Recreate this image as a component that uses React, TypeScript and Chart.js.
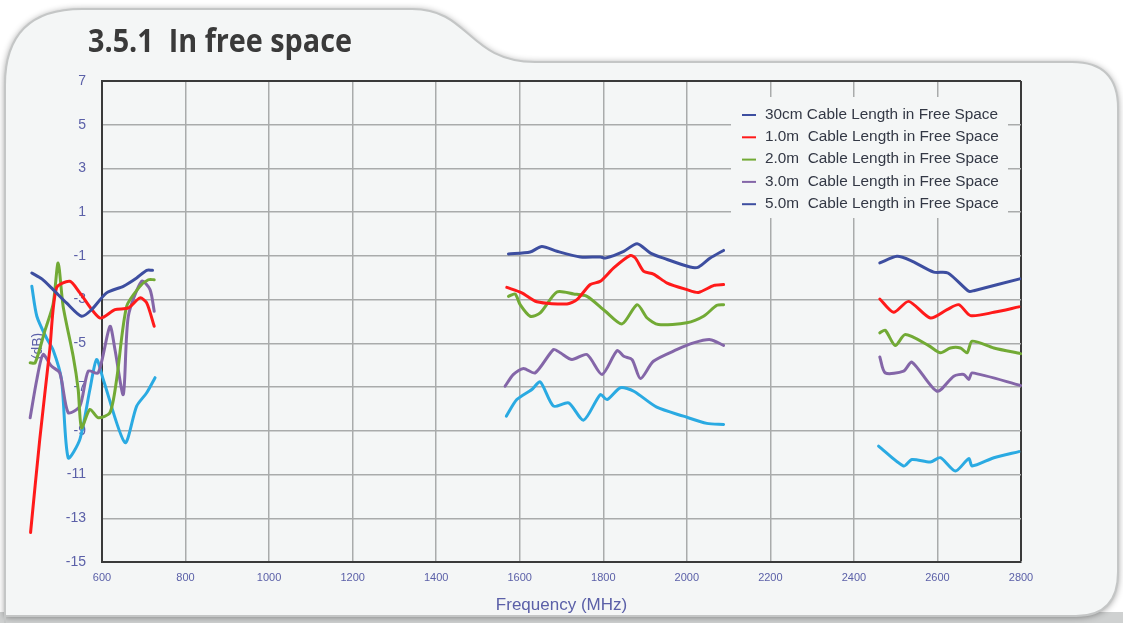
import React, { useEffect, useRef } from 'react';
import { Chart, registerables } from 'chart.js';

Chart.register(...registerables);

// ---------- data (frequency in MHz, gain in dB; null = gap between bands) ----------
const xTickValues = [600, 800, 1000, 1200, 1400, 1600, 1800, 2000, 2200, 2400, 2600, 2800];
const yTickValues = [-15, -13, -11, -9, -7, -5, -3, -1, 1, 3, 5, 7];

const seriesNames = [
  '30cm Cable Length in Free Space',
  '1.0m  Cable Length in Free Space',
  '2.0m  Cable Length in Free Space',
  '3.0m  Cable Length in Free Space',
  '5.0m  Cable Length in Free Space',
];

const freq30cm = [432, 456, 483, 515, 551, 575, 611, 651, 683, 707, 721, null,
  1573, 1625, 1653, 1689, 1745, 1793, 1805, 1849, 1881, 1913, 1944, 2008, 2028, 2056, 2088, null,
  2462, 2503, 2535, 2591, 2625, 2675, 2687, 2797];
const gain30cm = [-1.78, -2.05, -2.54, -3.15, -3.76, -3.46, -2.69, -2.39, -2.01, -1.66, -1.66, null,
  -0.91, -0.82, -0.57, -0.79, -1.05, -1.05, -1.1, -0.79, -0.44, -0.87, -1.1, -1.51, -1.51, -1.1, -0.75, null,
  -1.32, -1.02, -1.2, -1.74, -1.78, -2.62, -2.59, -2.05];

const freq1m = [429, 451, 475, 491, 523, 547, 595, 631, 663, 691, 707, 725, null,
  1569, 1605, 1641, 1713, 1737, 1769, 1793, 1825, 1865, 1877, 1897, 1920, 1953, 2000, 2028, 2065, 2088, null,
  2462, 2495, 2531, 2583, 2623, 2651, 2679, 2735, 2795];
const gain1m = [-13.65, -9.39, -5.28, -2.47, -2.16, -2.69, -3.84, -3.46, -3.38, -2.92, -3.15, -4.22, null,
  -2.44, -2.69, -3.1, -3.2, -3.0, -2.31, -2.16, -1.55, -0.98, -1.1, -1.71, -1.83, -2.24, -2.54, -2.67, -2.35, -2.31, null,
  -2.97, -3.58, -3.08, -3.84, -3.46, -3.23, -3.73, -3.58, -3.33];

const freq2m = [428, 440, 463, 483, 495, 507, 531, 543, 551, 571, 591, 619, 635, 659, 691, 711, 725, null,
  1573, 1589, 1601, 1625, 1649, 1689, 1729, 1761, 1805, 1845, 1881, 1905, 1932, 2000, 2040, 2072, 2088, null,
  2462, 2475, 2499, 2523, 2579, 2607, 2631, 2655, 2671, 2683, 2735, 2799];
const gain2m = [-5.89, -5.89, -4.44, -3.2, -1.32, -3.31, -5.59, -7.11, -8.86, -8.02, -8.4, -8.17, -6.65, -3.31, -2.39, -2.09, -2.09, null,
  -2.85, -2.74, -3.23, -3.76, -3.61, -2.65, -2.74, -2.85, -3.53, -4.11, -3.23, -3.84, -4.14, -4.06, -3.76, -3.26, -3.23, null,
  -4.52, -4.4, -5.1, -4.6, -5.1, -5.43, -5.21, -5.21, -5.43, -4.9, -5.21, -5.47];

const freq3m = [428, 444, 459, 479, 499, 519, 547, 567, 591, 619, 631, 651, 663, 695, 715, 725, null,
  1565, 1585, 1609, 1637, 1681, 1697, 1725, 1761, 1797, 1833, 1849, 1869, 1889, 1920, 1977, 2016, 2056, 2088, null,
  2462, 2475, 2519, 2539, 2599, 2639, 2663, 2675, 2683, 2799];
const gain3m = [-8.4, -6.65, -5.51, -6.04, -6.35, -8.17, -7.87, -6.27, -6.35, -4.22, -5.28, -7.34, -3.76, -2.16, -2.54, -3.53, null,
  -6.96, -6.42, -6.15, -6.35, -5.28, -5.43, -5.74, -5.51, -6.42, -5.33, -5.59, -5.74, -6.61, -5.82, -5.28, -4.98, -4.83, -5.09, null,
  -5.62, -6.35, -6.27, -5.86, -7.19, -6.5, -6.42, -6.65, -6.35, -6.93];

const freq5m = [432, 444, 467, 483, 503, 519, 547, 571, 587, 603, 655, 683, 707, 727, null,
  1568, 1593, 1629, 1649, 1681, 1717, 1753, 1793, 1809, 1841, 1873, 1928, 1992, 2048, 2088, null,
  2459, 2519, 2539, 2583, 2607, 2643, 2675, 2683, 2735, 2795];
const gain5m = [-2.39, -3.76, -4.75, -5.3, -6.65, -10.23, -9.39, -7.11, -5.74, -6.65, -9.54, -7.87, -7.26, -6.57, null,
  -8.33, -7.57, -7.11, -6.76, -7.87, -7.72, -8.51, -7.34, -7.57, -7.03, -7.19, -7.92, -8.33, -8.66, -8.71, null,
  -9.7, -10.61, -10.31, -10.43, -10.23, -10.84, -10.27, -10.61, -10.23, -9.95];

const lineColors = ['#3d4ea0', '#ff1a1a', '#72aa35', '#8466a8', '#2aaae2'];
const legendColors = ['#3d4ea0', '#ff1a1a', '#72aa35', '#8466a8', '#3d4ea0'];

const seriesFreqs = [freq30cm, freq1m, freq2m, freq3m, freq5m];
const seriesGains = [gain30cm, gain1m, gain2m, gain3m, gain5m];

const TICK_COLOR = '#5b60a8';
const PANEL = '#f4f6f6';

const toPoints = (fs: (number | null)[], gs: (number | null)[]) =>
  fs.map((f, i) => ({ x: f, y: gs[i] }));

const panelPlugin = {
  id: 'panel',
  beforeDraw(chart: any) {
    const { ctx, width, height } = chart;
    ctx.save();
    ctx.fillStyle = '#ffffff';
    ctx.fillRect(0, 0, width, height);
    ctx.fillStyle = '#cfd1d1';
    ctx.fillRect(0, 612, width, height - 612);
    ctx.beginPath();
    ctx.moveTo(5, 640);
    ctx.lineTo(5, 85);
    ctx.quadraticCurveTo(5, 9, 82, 9);
    ctx.lineTo(412, 9);
    ctx.bezierCurveTo(470, 9, 468, 62, 535, 62);
    ctx.lineTo(1072, 62);
    ctx.quadraticCurveTo(1118, 62, 1118, 108);
    ctx.lineTo(1118, 572);
    ctx.quadraticCurveTo(1118, 616, 1076, 616);
    ctx.lineTo(5, 616);
    ctx.closePath();
    ctx.shadowColor = 'rgba(0,0,0,0.45)';
    ctx.shadowBlur = 7;
    ctx.shadowOffsetX = 0;
    ctx.shadowOffsetY = 1;
    ctx.fillStyle = PANEL;
    ctx.fill();
    ctx.shadowColor = 'transparent';
    ctx.lineWidth = 2;
    ctx.strokeStyle = '#c4c6c6';
    ctx.stroke();

    // main title
    const title = '3.5.1  In free space';
    ctx.font = 'bold 32px "Open Sans", "DejaVu Sans", sans-serif';
    ctx.fillStyle = '#3a3a3a';
    ctx.textBaseline = 'alphabetic';
    ctx.textAlign = 'left';
    const w = ctx.measureText(title).width;
    const k = 264 / w;
    ctx.translate(88, 52);
    ctx.scale(k, 1);
    ctx.fillText(title, 0, 0);
    ctx.restore();
  },
  beforeDatasetsDraw(chart: any) {
    const { ctx } = chart;
    ctx.save();
    // y-axis title
    ctx.translate(38, 346);
    ctx.rotate(-Math.PI / 2);
    ctx.font = '14px "Liberation Sans", Arial, sans-serif';
    ctx.fillStyle = TICK_COLOR;
    ctx.textAlign = 'center';
    ctx.textBaseline = 'middle';
    ctx.fillText('(dB)', 0, 0);
    ctx.restore();

    // legend box
    ctx.save();
    ctx.fillStyle = PANEL;
    ctx.fillRect(731, 97, 277, 121);
    ctx.font = '14px "Liberation Sans", Arial, sans-serif';
    const k = 233 / ctx.measureText(seriesNames[0]).width;
    seriesNames.forEach((name, i) => {
      const y = 115 + i * 22.3;
      ctx.strokeStyle = legendColors[i];
      ctx.lineWidth = 2;
      ctx.beginPath();
      ctx.moveTo(742, y);
      ctx.lineTo(756, y);
      ctx.stroke();
      ctx.save();
      ctx.translate(765, y);
      ctx.scale(k, 1);
      ctx.fillStyle = '#333845';
      ctx.textAlign = 'left';
      ctx.textBaseline = 'middle';
      ctx.fillText(name, 0, 0);
      ctx.restore();
    });
    ctx.restore();
  },
};

export default function App() {
  const canvasRef = useRef<HTMLCanvasElement | null>(null);

  useEffect(() => {
    if (!canvasRef.current) return;
    const chart = new Chart(canvasRef.current, {
      type: 'line',
      data: {
        datasets: seriesNames.map((name, i) => ({
          label: name,
          data: toPoints(seriesFreqs[i], seriesGains[i]) as any,
          borderColor: lineColors[i],
          backgroundColor: lineColors[i],
          borderWidth: 3,
          pointRadius: 0,
          pointHoverRadius: 0,
          tension: 0.25,
          fill: false,
          spanGaps: false,
          clip: false as any,
          borderCapStyle: 'round' as const,
          borderJoinStyle: 'round' as const,
        })),
      },
      options: {
        animation: false,
        responsive: false,
        devicePixelRatio: 1,
        events: [],
        layout: { padding: { top: 81, right: 102, left: 0, bottom: 0 } },
        plugins: {
          legend: { display: false },
          title: { display: false },
          tooltip: { enabled: false },
        },
        scales: {
          x: {
            type: 'linear',
            min: 600,
            max: 2800,
            afterBuildTicks: (s: any) => {
              s.ticks = xTickValues.map((v) => ({ value: v }));
            },
            afterFit: (s: any) => {
              s.height = 61;
            },
            ticks: {
              autoSkip: false,
              maxRotation: 0,
              padding: 9,
              color: TICK_COLOR,
              font: { family: '"Liberation Sans", Arial, sans-serif', size: 11 },
              callback: (v: any) => String(v),
            },
            grid: {
              drawTicks: false,
              color: (c: any) => (c.tick && c.tick.value === 2800 ? '#3a3a3a' : '#a9abab'),
              lineWidth: (c: any) => (c.tick && c.tick.value === 2800 ? 2 : 1.5),
            },
            border: { color: '#3a3a3a', width: 2 },
            title: {
              display: true,
              text: 'Frequency (MHz)',
              color: TICK_COLOR,
              font: { family: '"Liberation Sans", Arial, sans-serif', size: 17 },
              padding: { top: 0, bottom: 7 },
            },
          },
          y: {
            type: 'linear',
            min: -15,
            max: 7,
            afterBuildTicks: (s: any) => {
              s.ticks = yTickValues.map((v) => ({ value: v }));
            },
            afterFit: (s: any) => {
              s.width = 102;
            },
            ticks: {
              padding: 16,
              color: TICK_COLOR,
              font: { family: '"Liberation Sans", Arial, sans-serif', size: 14 },
              callback: (v: any) => String(v),
            },
            grid: {
              drawTicks: false,
              color: (c: any) => (c.tick && c.tick.value === 7 ? '#3a3a3a' : '#a9abab'),
              lineWidth: (c: any) => (c.tick && c.tick.value === 7 ? 2 : 1.5),
            },
            border: { color: '#3a3a3a', width: 2 },
          },
        },
      },
      plugins: [panelPlugin],
    });
    return () => chart.destroy();
  }, []);

  return (
    <div style={{ position: 'absolute', left: 0, top: 0, width: 1123, height: 623 }}>
      <canvas ref={canvasRef} width={1123} height={623} style={{ display: 'block' }} />
    </div>
  );
}
